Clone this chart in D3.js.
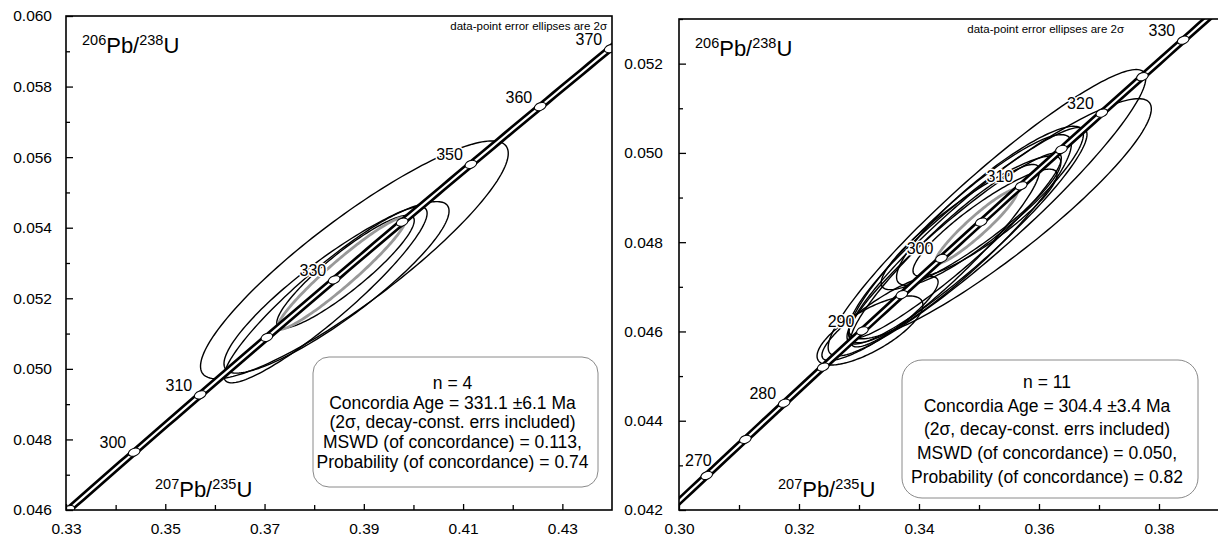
<!DOCTYPE html>
<html lang="en">
<head>
<meta charset="utf-8">
<script src="https://cdn.jsdelivr.net/npm/d3@7"></script>
<style>
  body { margin: 0; background: #fff; }
  svg text { font-family: "Liberation Sans", Arial, sans-serif; fill: #000; }
</style>
</head>
<body>
<script>
// U decay constants (1/yr), used for the concordia curve
var lambda238 = 1.55125e-10, lambda235 = 9.8485e-10;

// ---- left diagram (n = 4): 207Pb/235U, 2s, 206Pb/238U, 2s, rho
var leftX   = [0.3881, 0.3845, 0.3823, 0.38631];
var leftSx  = [0.0310, 0.02267, 0.02045, 0.01385];
var leftY   = [0.05309, 0.05231, 0.0521, 0.052752];
var leftSy  = [0.00337, 0.00243, 0.002496, 0.001603];
var leftRho = [0.895, 0.89, 0.925, 0.905];
var leftAgeEllipse = [0.38553, 0.0129, 0.052704, 0.001583, 0.955];

var leftAges = [290, 300, 310, 320, 330, 340, 350, 360, 370];
var leftAgeLabels = [300, 310, 330, 350, 360, 370];
var leftXTicks = [0.33, 0.35, 0.37, 0.39, 0.41, 0.43];
var leftXMinor = [0.34, 0.36, 0.38, 0.40, 0.42];
var leftYTicks = [0.046, 0.048, 0.050, 0.052, 0.054, 0.056, 0.058, 0.060];
var leftYMinor = [0.047, 0.049, 0.051, 0.053, 0.055, 0.057, 0.059];
var leftLegend = ["n = 4", "Concordia Age = 331.1 \u00b16.1 Ma", "(2\u03c3, decay-const. errs included)",
                  "MSWD (of concordance) = 0.113,", "Probability (of concordance) = 0.74"];

// ---- right diagram (n = 11)
var rightX   = [0.35133, 0.3535, 0.348, 0.34683, 0.34867, 0.351, 0.33183, 0.346, 0.34433, 0.35183, 0.3335];
var rightSx  = [0.02647, 0.02522, 0.0200, 0.01857, 0.01498, 0.0120, 0.00882, 0.01772, 0.01575, 0.01557, 0.00968];
var rightY   = [0.048659, 0.048525, 0.048145, 0.048078, 0.048436, 0.048436, 0.046022, 0.047922, 0.047698, 0.048816, 0.04629];
var rightSy  = [0.003209, 0.00269, 0.002425, 0.002331, 0.001499, 0.0012, 0.000774, 0.002075, 0.002044, 0.001781, 0.000943];
var rightRho = [0.94, 0.915, 0.935, 0.91, 0.9, 0.895, 0.74, 0.945, 0.93, 0.895, 0.87];
var rightAgeEllipse = [0.34958, 0.00682, 0.048353, 0.000829, 0.94];

var rightAges = [270, 275, 280, 285, 290, 295, 300, 305, 310, 315, 320, 325, 330];
var rightAgeLabels = [270, 280, 290, 300, 310, 320, 330];
var rightXTicks = [0.30, 0.32, 0.34, 0.36, 0.38];
var rightXMinor = [0.31, 0.33, 0.35, 0.37, 0.39];
var rightYTicks = [0.042, 0.044, 0.046, 0.048, 0.050, 0.052];
var rightYMinor = [0.043, 0.045, 0.047, 0.049, 0.051, 0.053];
var rightLegend = ["n = 11", "Concordia Age = 304.4 \u00b13.4 Ma", "(2\u03c3, decay-const. errs included)",
                   "MSWD (of concordance) = 0.050,", "Probability (of concordance) = 0.82"];

var svg = d3.select("body").append("svg")
    .attr("width", 1218)
    .attr("height", 540);

function concordia(t) {
  return [Math.exp(lambda235 * t * 1e6) - 1, Math.exp(lambda238 * t * 1e6) - 1];
}

// points of a 2-sigma error ellipse in data units
function ellipsePoints(x0, sx, y0, sy, r) {
  return d3.range(0, 361, 2).map(function(a) {
    var t = a * Math.PI / 180;
    return [x0 + sx * Math.cos(t), y0 + sy * (r * Math.cos(t) + Math.sqrt(1 - r * r) * Math.sin(t))];
  });
}

function ratioTitle(g, x, y, a, b) {
  var t = g.append("text").attr("x", x).attr("y", y).style("font-size", "22px");
  t.append("tspan").attr("dy", -8).style("font-size", "14.5px").text(a);
  t.append("tspan").attr("dy", 8).text("Pb/");
  t.append("tspan").attr("dy", -8).style("font-size", "14.5px").text(b);
  t.append("tspan").attr("dy", 8).text("U");
}

function drawPanel(p) {
  var x = d3.scaleLinear().domain(p.xDomain).range([p.x0, p.x1]);
  var y = d3.scaleLinear().domain(p.yDomain).range([p.y1, p.y0]);
  var g = svg.append("g");

  g.append("clipPath").attr("id", p.id + "-clip")
    .append("rect")
    .attr("x", p.x0).attr("y", p.y0)
    .attr("width", p.x1 - p.x0).attr("height", p.y1 - p.y0);

  var plot = g.append("g").attr("clip-path", "url(#" + p.id + "-clip)");
  var line = d3.line().x(function(d) { return x(d[0]); }).y(function(d) { return y(d[1]); });

  // data-point error ellipses
  p.ex.forEach(function(cx, i) {
    plot.append("path")
      .attr("d", line(ellipsePoints(cx, p.esx[i], p.ey[i], p.esy[i], p.erho[i])) + "Z")
      .attr("fill", "none")
      .attr("stroke", "#000")
      .attr("stroke-width", 1.4);
  });

  // concordia age ellipse
  var ae = p.ageEllipse;
  plot.append("path")
    .attr("d", line(ellipsePoints(ae[0], ae[1], ae[2], ae[3], ae[4])) + "Z")
    .attr("fill", "none")
    .attr("stroke", "#999")
    .attr("stroke-width", 2.8);

  // concordia curve: black band with white centre
  var curve = d3.range(240, 411, 1).map(concordia);
  plot.append("path").attr("d", line(curve))
    .attr("fill", "none").attr("stroke", "#000").attr("stroke-width", 7.5);
  plot.append("path").attr("d", line(curve))
    .attr("fill", "none").attr("stroke", "#fff").attr("stroke-width", 2.2);

  // age markers
  p.ages.forEach(function(t) {
    var c = concordia(t);
    plot.append("ellipse")
      .attr("cx", x(c[0])).attr("cy", y(c[1]))
      .attr("rx", 6).attr("ry", 3.8)
      .attr("transform", "rotate(-20," + x(c[0]) + "," + y(c[1]) + ")")
      .attr("fill", "#fff").attr("stroke", "#000").attr("stroke-width", 1);
  });
  p.ageLabels.forEach(function(t) {
    var c = concordia(t);
    var lbl = g.append("text")
      .attr("x", x(c[0]) - 8).attr("y", y(c[1]) - 4)
      .attr("text-anchor", "end")
      .style("font-size", "16px")
      .style("paint-order", "stroke")
      .attr("stroke", "#fff").attr("stroke-width", 3)
      .text(t);
    // keep labels inside the frame
    var w = lbl.node().getComputedTextLength();
    if (x(c[0]) - 8 - w < p.x0 + 4) {
      lbl.attr("text-anchor", "start").attr("x", p.x0 + 6).attr("y", y(c[1]) - 9);
    }
  });

  // axes, ticks point inwards
  var xa = g.append("g").attr("transform", "translate(0," + p.y1 + ")");
  xa.call(d3.axisBottom(x).tickValues(p.xTicks).tickFormat(d3.format(".2f"))
      .tickSizeInner(-6).tickSizeOuter(0).tickPadding(13));
  xa.append("g").call(d3.axisBottom(x).tickValues(p.xMinor).tickFormat("")
      .tickSizeInner(-5).tickSizeOuter(0));
  var ya = g.append("g").attr("transform", "translate(" + p.x0 + ",0)");
  ya.call(d3.axisLeft(y).tickValues(p.yTicks).tickFormat(d3.format(".3f"))
      .tickSizeInner(-7).tickSizeOuter(0).tickPadding(p.yPad));
  ya.append("g").call(d3.axisLeft(y).tickValues(p.yMinor).tickFormat("")
      .tickSizeInner(-4).tickSizeOuter(0));
  g.selectAll(".domain").remove();
  g.selectAll(".tick line").attr("stroke-width", 1.3);
  g.selectAll(".tick text").style("font-size", "15.5px").style("font-family", "'Liberation Sans', Arial, sans-serif");

  g.append("rect")
    .attr("x", p.x0).attr("y", p.y0)
    .attr("width", p.x1 - p.x0).attr("height", p.y1 - p.y0)
    .attr("fill", "none").attr("stroke", "#000").attr("stroke-width", 1.6);

  ratioTitle(g, p.x0 + 16, p.y0 + 37, "206", "238");
  ratioTitle(g, p.bx, p.y1 - 13, "207", "235");

  g.append("text")
    .attr("x", p.noteX).attr("y", p.y0 + 14)
    .attr("text-anchor", "end")
    .style("font-size", "11.5px")
    .text("data-point error ellipses are 2\u03c3");

  // results box
  var L = p.legendBox;
  g.append("rect")
    .attr("x", L[0]).attr("y", L[1]).attr("width", L[2]).attr("height", L[3])
    .attr("rx", L[4]).attr("ry", L[4])
    .attr("fill", "#fff").attr("stroke", "#8a8a8a").attr("stroke-width", 1);
  p.legend.forEach(function(s, i) {
    g.append("text")
      .attr("x", L[0] + L[2] / 2 - 3)
      .attr("y", p.legendY + i * p.legendStep)
      .attr("text-anchor", "middle")
      .style("font-size", "17.5px")
      .text(s);
  });
}

drawPanel({
  id: "left", x0: 66, x1: 612, y0: 16, y1: 510,
  xDomain: [0.33, 0.44], yDomain: [0.046, 0.060],
  ex: leftX, esx: leftSx, ey: leftY, esy: leftSy, erho: leftRho,
  ageEllipse: leftAgeEllipse, ages: leftAges, ageLabels: leftAgeLabels,
  xTicks: leftXTicks, xMinor: leftXMinor, yTicks: leftYTicks, yMinor: leftYMinor,
  yPad: 14, bx: 155, noteX: 607,
  legend: leftLegend, legendBox: [313, 357, 285, 130, 16], legendY: 389, legendStep: 19.7
});

drawPanel({
  id: "right", x0: 679, x1: 1219, y0: 19, y1: 510,
  xDomain: [0.30, 0.39], yDomain: [0.042, 0.053],
  ex: rightX, esx: rightSx, ey: rightY, esy: rightSy, erho: rightRho,
  ageEllipse: rightAgeEllipse, ages: rightAges, ageLabels: rightAgeLabels,
  xTicks: rightXTicks, xMinor: rightXMinor, yTicks: rightYTicks, yMinor: rightYMinor,
  yPad: 16, bx: 778, noteX: 1124,
  legend: rightLegend, legendBox: [902, 360, 296, 138, 20], legendY: 388, legendStep: 23.7
});
</script>
</body>
</html>
